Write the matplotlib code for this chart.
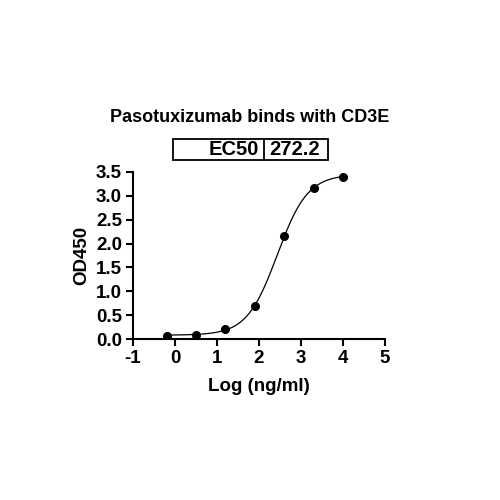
import numpy as np
import matplotlib
matplotlib.use('Agg')
import matplotlib.pyplot as plt
from matplotlib.patches import Rectangle

plt.rcParams['font.family'] = ['Liberation Sans', 'DejaVu Sans']
plt.rcParams['font.weight'] = 'bold'

# data
log_conc = [-0.2, 0.5, 1.2, 1.9, 2.6, 3.3, 4.0]
od450 = [0.07, 0.09, 0.21, 0.70, 2.15, 3.16, 3.40]

# 4PL fit parameters
bottom = 0.08
top = 3.45
ec50 = 272.2
hill = 1.2

x_ticks = [-1, 0, 1, 2, 3, 4, 5]
y_ticks = [0.0, 0.5, 1.0, 1.5, 2.0, 2.5, 3.0, 3.5]

fig = plt.figure(figsize=(5, 5), dpi=100)
ax = fig.add_axes([0.266, 0.322, 0.504, 0.334])

xf = np.linspace(-0.2, 4.0, 300)
yf = bottom + (top - bottom) / (1 + 10 ** ((np.log10(ec50) - xf) * hill))
ax.plot(xf, yf, color='black', lw=0.9)
ax.plot(log_conc, od450, 'o', color='black', ms=5.5)

ax.set_xlim(-1, 5)
ax.set_ylim(0, 3.5)
ax.set_xticks(x_ticks)
ax.set_xticklabels([str(t) for t in x_ticks])
ax.set_yticks(y_ticks)
ax.set_yticklabels(['%.1f' % t for t in y_ticks])
for s in ['top', 'right']:
    ax.spines[s].set_visible(False)
for s in ['left', 'bottom']:
    ax.spines[s].set_linewidth(1.5)
ax.tick_params(width=1.5, length=5, labelsize=13.5, pad=3)
for lab in ax.get_xticklabels() + ax.get_yticklabels():
    lab.set_fontweight('bold')
ax.set_xlabel('Log (ng/ml)', fontsize=13.5, fontweight='bold', labelpad=8)
ax.set_ylabel('OD450', fontsize=13.5, fontweight='bold', labelpad=4)

fig.text(0.5, 0.766, 'Pasotuxizumab binds with CD3E', ha='center', va='center',
         fontsize=13, fontweight='bold')

# EC50 table
x0, x1, xm = 172.5 / 500, 328 / 500, 263.5 / 500
y0, y1 = 1 - 160 / 500, 1 - 138.5 / 500
fig.patches.append(Rectangle((x0, y0), x1 - x0, y1 - y0, transform=fig.transFigure,
                             fill=False, lw=1.3, color='black'))
fig.add_artist(plt.Line2D([xm, xm], [y0, y1], transform=fig.transFigure, color='black', lw=1.3))
fig.text(xm - 0.009, (y0 + y1) / 2, 'EC50', ha='right', va='center', fontsize=14.5, fontweight='bold')
fig.text(xm + 0.011, (y0 + y1) / 2, '%.1f' % ec50, ha='left', va='center', fontsize=14.5, fontweight='bold')

fig.savefig('out.png', dpi=100)
